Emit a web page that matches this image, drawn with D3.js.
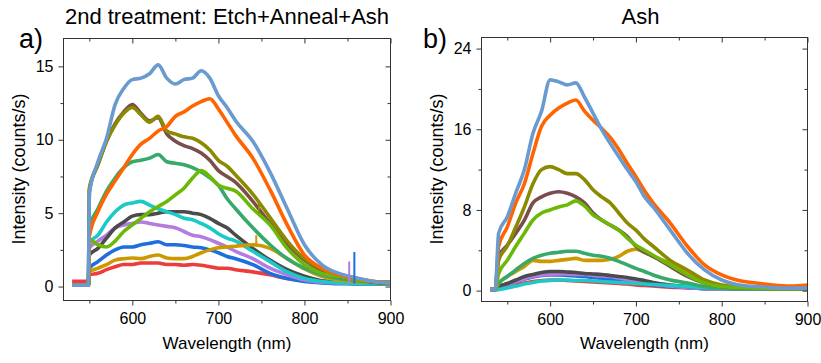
<!DOCTYPE html>
<html><head><meta charset="utf-8">
<script src="https://cdn.jsdelivr.net/npm/d3@7"></script>
<style>
body{margin:0;background:#fff}
svg{display:block}
text{font-family:"Liberation Sans",Arial,Helvetica,sans-serif;fill:#000}
</style>
</head><body>
<svg id="c" width="821" height="363"></svg>
<script>
// ---------------- DATA ----------------
// Panel a) 2nd treatment: Etch+Anneal+Ash
const wlA = [530,549,550,560,570,580,590,600,610,620,630,640,650,660,670,680,690,700,710,720,740,760,780,800,820,840,860,880,900];
const redA        = [0.35,0.35,0.8,0.9,1.15,1.35,1.5,1.5,1.6,1.6,1.6,1.5,1.5,1.45,1.5,1.45,1.35,1.25,1.25,1.15,1.0,0.8,0.55,0.45,0.35,0.3,0.3,0.3,0.3];
const blueA       = [0.1,0.1,1.25,1.7,2.15,2.5,2.7,2.7,2.85,2.95,3.05,2.85,2.85,2.8,2.7,2.65,2.5,2.3,2.05,1.9,1.5,0.9,0.55,0.35,0.25,0.2,0.2,0.2,0.2];
const purpleA     = [0.1,0.1,2.6,3.1,3.5,4.0,4.2,4.3,4.4,4.3,4.2,4.1,4.0,3.75,3.5,3.4,3.2,2.95,2.7,2.4,1.9,1.25,0.8,0.45,0.3,0.25,0.2,0.2,0.2];
const darkgrayA   = [0.1,0.1,2.15,2.6,3.3,4.0,4.4,4.8,4.9,4.9,5.0,5.1,5.1,5.1,5.0,4.9,4.65,4.3,4.0,3.5,2.6,1.8,1.15,0.7,0.4,0.3,0.2,0.2,0.2];
const cyanA       = [0.1,0.1,3.0,3.5,4.4,5.1,5.55,5.7,5.8,5.55,5.3,5.1,4.9,4.65,4.55,4.3,4.0,3.6,3.3,3.1,2.4,1.7,1.0,0.55,0.35,0.25,0.2,0.2,0.2];
const goldA       = [0.1,0.1,1.0,1.25,1.5,1.8,1.9,1.95,1.9,2.05,2.15,1.95,1.9,1.9,2.05,2.3,2.5,2.65,2.7,2.75,2.85,2.6,1.9,1.2,0.7,0.45,0.35,0.3,0.25];
const seagreenA   = [0.1,0.1,4.0,5.3,6.5,7.4,8.1,8.5,8.6,8.75,9.0,8.5,8.4,8.3,8.1,7.8,7.4,6.9,6.0,5.3,4.0,2.85,1.9,1.25,0.8,0.55,0.4,0.3,0.2];
const brownA      = [0.1,0.1,6.5,8.3,9.9,11.1,11.9,12.4,11.8,11.3,11.5,10.4,9.9,9.6,9.4,9.1,8.6,7.9,7.5,7.1,5.8,4.3,2.9,1.8,1.1,0.7,0.5,0.3,0.25];
const oliveA      = [0.1,0.1,6.7,8.3,9.9,11.0,11.8,12.2,11.7,11.2,11.6,10.6,10.4,10.2,10.1,9.8,9.3,8.6,8.2,7.6,6.3,4.7,3.1,1.9,1.2,0.8,0.55,0.35,0.25];
const yellowgreenA= [0.1,0.1,3.2,2.85,2.7,3.1,3.75,4.2,4.65,5.1,5.45,5.8,6.25,6.7,7.4,7.9,7.5,6.9,6.7,6.5,5.3,4.2,2.6,1.5,0.9,0.7,0.45,0.35,0.25];
const orangeA     = [0.1,0.1,3.4,5.1,6.3,7.2,8.1,9.0,9.7,10.1,10.6,10.9,11.6,11.9,12.3,12.6,12.8,12.1,11.2,10.3,8.75,6.6,4.2,2.15,1.25,0.8,0.55,0.35,0.25];
const lightblueA  = [0.1,0.1,6.3,8.5,10.1,12.4,13.5,14.1,14.2,14.5,15.1,14.2,13.8,14.1,14.2,14.7,14.2,13.0,12.2,11.3,9.9,7.8,5.3,2.85,1.5,0.9,0.6,0.35,0.25];
// single-channel spikes visible in panel a)
const spikeSeriesA = ["blue","purple","gold","olive"];
const spikeWlA     = [858,852,744,747];
const spikeLowA    = [0.2,0.2,2.75,5.0];
const spikeHighA   = [2.35,1.7,3.5,5.7];

// Panel b) Ash
const wlB = [530,536,540,550,560,570,580,590,600,610,620,630,640,650,660,670,680,690,700,710,720,740,760,780,800,820,840,860,880,900];
const redB        = [0.1,0.1,0.2,0.35,0.55,0.75,0.9,1.0,1.05,1.05,1.0,0.95,0.9,0.85,0.8,0.75,0.7,0.65,0.55,0.5,0.45,0.35,0.3,0.2,0.2,0.2,0.2,0.2,0.2,0.2];
const blueB       = [0.1,0.1,0.3,0.6,0.9,1.15,1.35,1.5,1.55,1.55,1.5,1.45,1.4,1.3,1.2,1.1,1.0,0.9,0.75,0.65,0.55,0.4,0.3,0.2,0.2,0.2,0.2,0.2,0.2,0.2];
const purpleB     = [0.1,0.1,0.3,0.6,0.9,1.2,1.4,1.55,1.6,1.65,1.65,1.6,1.6,1.5,1.45,1.4,1.25,1.1,0.95,0.8,0.65,0.45,0.3,0.25,0.2,0.2,0.2,0.2,0.2,0.2];
const darkgrayB   = [0.1,0.1,0.4,0.7,1.05,1.4,1.6,1.8,1.9,1.9,1.85,1.8,1.7,1.65,1.6,1.5,1.4,1.3,1.15,1.0,0.8,0.55,0.4,0.3,0.25,0.2,0.2,0.2,0.2,0.2];
const cyanB       = [0.1,0.1,0.1,0.25,0.45,0.65,0.8,0.95,1.0,1.05,1.05,1.0,1.0,0.95,0.9,0.85,0.8,0.75,0.7,0.65,0.6,0.5,0.4,0.3,0.25,0.2,0.2,0.2,0.2,0.2];
const goldB       = [0.1,0.1,0.7,1.4,1.9,2.4,3.0,2.9,2.9,3.0,3.1,3.2,3.0,3.0,3.0,3.1,3.4,3.9,4.1,3.8,3.4,2.7,1.9,0.9,0.4,0.3,0.25,0.2,0.2,0.2];
const seagreenB   = [0.1,0.1,0.7,1.4,2.05,2.7,3.2,3.5,3.7,3.8,3.9,3.9,3.7,3.5,3.4,3.2,2.9,2.55,2.2,1.9,1.55,1.05,0.75,0.4,0.25,0.2,0.2,0.2,0.2,0.2];
const brownB      = [0.1,0.1,3.4,4.5,5.7,7.0,8.7,9.3,9.65,9.8,9.65,9.3,8.7,7.7,7.0,6.5,6.0,5.35,4.4,3.8,3.4,2.4,1.4,0.75,0.4,0.3,0.25,0.2,0.2,0.2];
const oliveB      = [0.1,0.1,3.0,4.4,6.3,8.3,10.6,12.0,12.3,12.0,11.6,11.6,11.0,10.0,9.3,8.7,7.7,6.7,6.0,5.1,4.4,3.0,2.05,1.05,0.55,0.4,0.3,0.25,0.2,0.2];
const yellowgreenB= [0.1,0.1,1.7,3.0,4.4,5.7,7.0,7.7,8.0,8.3,8.5,8.9,8.4,7.5,7.0,6.5,6.0,5.2,4.5,4.0,3.5,2.55,1.55,0.75,0.4,0.3,0.25,0.2,0.2,0.2];
const orangeB     = [0.1,0.1,4.4,6.3,8.7,10.6,13.6,16.3,17.4,18.1,18.6,18.9,17.8,16.9,16.1,15.2,14.0,12.6,11.3,9.9,8.7,6.7,4.4,2.55,1.55,1.0,0.75,0.55,0.45,0.55];
const lightblueB  = [0.1,0.1,5.7,7.3,9.7,12.0,15.6,17.8,20.9,20.7,20.4,20.6,19.2,17.6,16.0,14.6,13.3,12.0,10.8,9.3,8.3,6.0,3.7,2.05,1.05,0.55,0.4,0.3,0.25,0.25];

const xTicks = [550,600,650,700,750,800,850,900];
const xTickLabels = ["","600","","700","","800","","900"];
const yTicksA = [0,2.5,5,7.5,10,12.5,15];
const yTickLabelsA = ["0","","5","","10","","15"];
const yTicksB = [0,4,8,12,16,20,24];
const yTickLabelsB = ["0","","8","","16","","24"];

const titleA = "2nd treatment: Etch+Anneal+Ash";
const titleB = "Ash";
const tagA = "a)";
const tagB = "b)";
const xTitle = "Wavelength (nm)";
const yTitle = "Intensity (counts/s)";

// ---------------- STYLE ----------------
const colors = {
  red:"#ee3c3c", blue:"#1e6fdc", purple:"#b47ce0", darkgray:"#4b4b4b", cyan:"#1cc8c8",
  gold:"#cc9a00", seagreen:"#37aa6a", brown:"#7b4d4d", olive:"#8b8a00",
  yellowgreen:"#6cb806", orange:"#ff6400", lightblue:"#6a9bd0"
};
const order = ["red","blue","purple","darkgray","cyan","gold","seagreen","brown","olive","yellowgreen","orange","lightblue"];
const seriesA = {red:redA,blue:blueA,purple:purpleA,darkgray:darkgrayA,cyan:cyanA,gold:goldA,seagreen:seagreenA,brown:brownA,olive:oliveA,yellowgreen:yellowgreenA,orange:orangeA,lightblue:lightblueA};
const seriesB = {red:redB,blue:blueB,purple:purpleB,darkgray:darkgrayB,cyan:cyanB,gold:goldB,seagreen:seagreenB,brown:brownB,olive:oliveB,yellowgreen:yellowgreenB,orange:orangeB,lightblue:lightblueB};

const svg = d3.select("#c");
const axisColor = "#333";

function drawPanel(cfg, idx){
  const x = d3.scaleLinear().domain([520,900]).range([cfg.left, cfg.right]);
  const y = d3.scaleLinear().domain(cfg.yDomain).range([cfg.bottom, cfg.top]);
  const g = svg.append("g");

  const clipId = "clip" + idx;
  svg.append("defs").append("clipPath").attr("id", clipId)
    .append("rect").attr("x", cfg.left).attr("y", cfg.top)
    .attr("width", cfg.right - cfg.left).attr("height", cfg.bottom - cfg.top);

  const plot = g.append("g").attr("clip-path", `url(#${clipId})`);
  const line = d3.line().x((d,i) => x(cfg.wl[i])).y(d => y(d)).curve(d3.curveMonotoneX);
  order.forEach(name => {
    plot.append("path").attr("d", line(cfg.series[name]))
      .attr("fill","none").attr("stroke", colors[name])
      .attr("stroke-width", 3.6).attr("stroke-linejoin","round");
  });
  if (cfg.spikes) {
    cfg.spikes.series.forEach((name, i) => {
      plot.append("line")
        .attr("x1", x(cfg.spikes.wl[i])).attr("x2", x(cfg.spikes.wl[i]))
        .attr("y1", y(cfg.spikes.low[i])).attr("y2", y(cfg.spikes.high[i]))
        .attr("stroke", colors[name]).attr("stroke-width", 2);
    });
  }

  const isMajor = (v, arr, labels) => labels[arr.indexOf(v)] !== "" ;

  // bottom axis
  const bx = g.append("g").attr("transform", `translate(0,${cfg.bottom})`)
    .call(d3.axisBottom(x).tickValues(xTicks).tickFormat((d,i) => xTickLabels[i]).tickSizeOuter(0));
  bx.select(".domain").remove();
  bx.selectAll(".tick line").attr("stroke", axisColor)
    .attr("y2", d => isMajor(d, xTicks, xTickLabels) ? 5 : 3);
  bx.selectAll(".tick text").attr("y", 12).attr("font-size", 16)
    .style("font-family", '"Liberation Sans",Arial,sans-serif');

  // top axis (inward, no labels)
  const tx = g.append("g").attr("transform", `translate(0,${cfg.top})`)
    .call(d3.axisTop(x).tickValues(xTicks).tickFormat("").tickSizeOuter(0));
  tx.select(".domain").remove();
  tx.selectAll(".tick line").attr("stroke", axisColor)
    .attr("y2", d => isMajor(d, xTicks, xTickLabels) ? 5 : 3);

  // left axis
  const ly = g.append("g").attr("transform", `translate(${cfg.left},0)`)
    .call(d3.axisLeft(y).tickValues(cfg.yTicks).tickFormat((d,i) => cfg.yLabels[i]).tickSizeOuter(0));
  ly.select(".domain").remove();
  ly.selectAll(".tick line").attr("stroke", axisColor)
    .attr("x2", d => isMajor(d, cfg.yTicks, cfg.yLabels) ? -5 : -3);
  ly.selectAll(".tick text").attr("x", -10).attr("font-size", 16)
    .style("font-family", '"Liberation Sans",Arial,sans-serif');

  // right axis (inward)
  const ry = g.append("g").attr("transform", `translate(${cfg.right},0)`)
    .call(d3.axisRight(y).tickValues(cfg.yTicks).tickFormat("").tickSizeOuter(0));
  ry.select(".domain").remove();
  ry.selectAll(".tick line").attr("stroke", axisColor)
    .attr("x2", d => isMajor(d, cfg.yTicks, cfg.yLabels) ? -5 : -3);

  // frame
  g.append("rect").attr("x", cfg.left).attr("y", cfg.top)
    .attr("width", cfg.right - cfg.left).attr("height", cfg.bottom - cfg.top)
    .attr("fill","none").attr("stroke", axisColor).attr("stroke-width", 1);

  // titles & labels
  g.append("text").attr("x", (cfg.left + cfg.right)/2 + cfg.titleDx).attr("y", 24)
    .attr("text-anchor","middle").attr("font-size", 22).text(cfg.title);
  g.append("text").attr("x", cfg.tagX).attr("y", 48).attr("font-size", 27).text(cfg.tag);
  g.append("text").attr("x", (cfg.left + cfg.right)/2).attr("y", 349)
    .attr("text-anchor","middle").attr("font-size", 17).text(xTitle);
  g.append("text").attr("transform", `translate(${cfg.yTitleX},169) rotate(-90)`)
    .attr("text-anchor","middle").attr("font-size", 18).text(yTitle);
}

drawPanel({
  left: 63.5, right: 390.5, top: 38.5, bottom: 300.5,
  yDomain: [-0.95, 16.9], wl: wlA, series: seriesA,
  yTicks: yTicksA, yLabels: yTickLabelsA,
  title: titleA, titleDx: 0, tag: tagA, tagX: 19, yTitleX: 25,
  spikes: {series: spikeSeriesA, wl: spikeWlA, low: spikeLowA, high: spikeHighA}
}, 0);

drawPanel({
  left: 481.5, right: 807.5, top: 37.5, bottom: 301.5,
  yDomain: [-1.08, 25.1], wl: wlB, series: seriesB,
  yTicks: yTicksB, yLabels: yTickLabelsB,
  title: titleB, titleDx: -4, tag: tagB, tagX: 423, yTitleX: 443
}, 1);
</script>
</body></html>
